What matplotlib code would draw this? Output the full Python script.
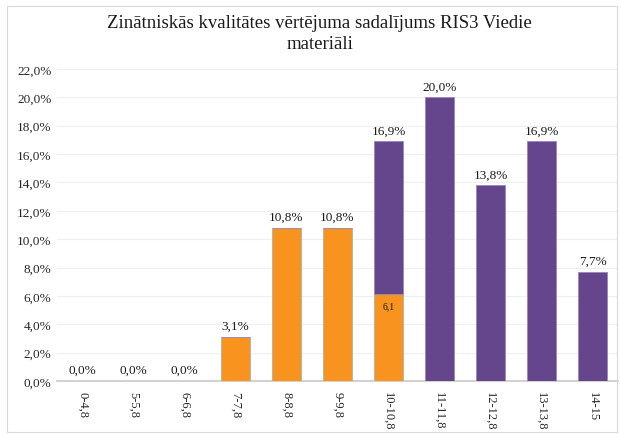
import matplotlib
matplotlib.use("Agg")
import matplotlib.pyplot as plt
from matplotlib.patches import Rectangle
import numpy as np

categories = ["0-4,8", "5-5,8", "6-6,8", "7-7,8", "8-8,8", "9-9,8",
              "10-10,8", "11-11,8", "12-12,8", "13-13,8", "14-15"]
orange_vals = [0.0, 0.0, 0.0, 3.1, 10.8, 10.8, 6.1, 0.0, 0.0, 0.0, 0.0]
purple_vals = [0.0, 0.0, 0.0, 0.0, 0.0, 0.0, 10.8, 20.0, 13.8, 16.9, 7.7]
total_labels = ["0,0%", "0,0%", "0,0%", "3,1%", "10,8%", "10,8%",
                "16,9%", "20,0%", "13,8%", "16,9%", "7,7%"]
inner_label = "6,1"
yticks = [0, 2, 4, 6, 8, 10, 12, 14, 16, 18, 20, 22]
title = "Zinātniskās kvalitātes vērtējuma sadalījums RIS3 Viedie\nmateriāli"

plt.rcParams['font.family'] = ['Liberation Serif', 'DejaVu Serif']

ORANGE = "#F7931E"
PURPLE = "#65468C"

fig = plt.figure(figsize=(6.21, 4.35), dpi=100)
ax = fig.add_axes([57/621, 53/435, 561/621, 312/435])

x = np.arange(len(categories))
w = 0.55
orange = np.array(orange_vals)
purple = np.array(purple_vals)
ax.bar(x, orange, width=w, color=ORANGE, edgecolor="#B0B0B0", linewidth=0.6, zorder=3)
ax.bar(x, purple, width=w, bottom=orange, color=PURPLE, edgecolor="#9A86BC", linewidth=0.6, zorder=3)

totals = orange + purple
for xi, t, lab in zip(x, totals, total_labels):
    ax.text(xi, t + 0.35, lab, ha="center", va="bottom", fontsize=9.5, color="#1A1A1A")

ax.text(x[6], orange[6] - 0.45, inner_label, ha="center", va="top", fontsize=7, color="#1A1A1A", zorder=4)

ax.set_xlim(-0.5, len(categories) - 0.5)
ax.set_ylim(0, 22)
ax.set_yticks(yticks)
ax.set_yticklabels([f"{v:.1f}%".replace(".", ",") for v in yticks], fontsize=9.5, color="#262626")
ax.set_xticks(x)
ax.set_xticklabels(categories, rotation=270, fontsize=9, color="#262626", va="top", ha="center")
ax.tick_params(axis="y", length=0, pad=4)
ax.tick_params(axis="x", length=0, pad=7)
ax.grid(axis="y", color="#EFEFEF", linewidth=0.8, zorder=0)
for s in ["top", "right", "left"]:
    ax.spines[s].set_visible(False)
ax.spines["bottom"].set_color("#C8C8C8")
ax.spines["bottom"].set_linewidth(1.2)

fig.text(0.515, 1 - 34/435, title, ha="center", va="center", fontsize=13.5, color="#1A1A1A", linespacing=1.3)

fig.patches.append(Rectangle((7/621, 2/435), 610/621, 426/435, transform=fig.transFigure,
                             fill=False, edgecolor="#D9D9D9", linewidth=0.8))

fig.savefig("out.png", dpi=100)
